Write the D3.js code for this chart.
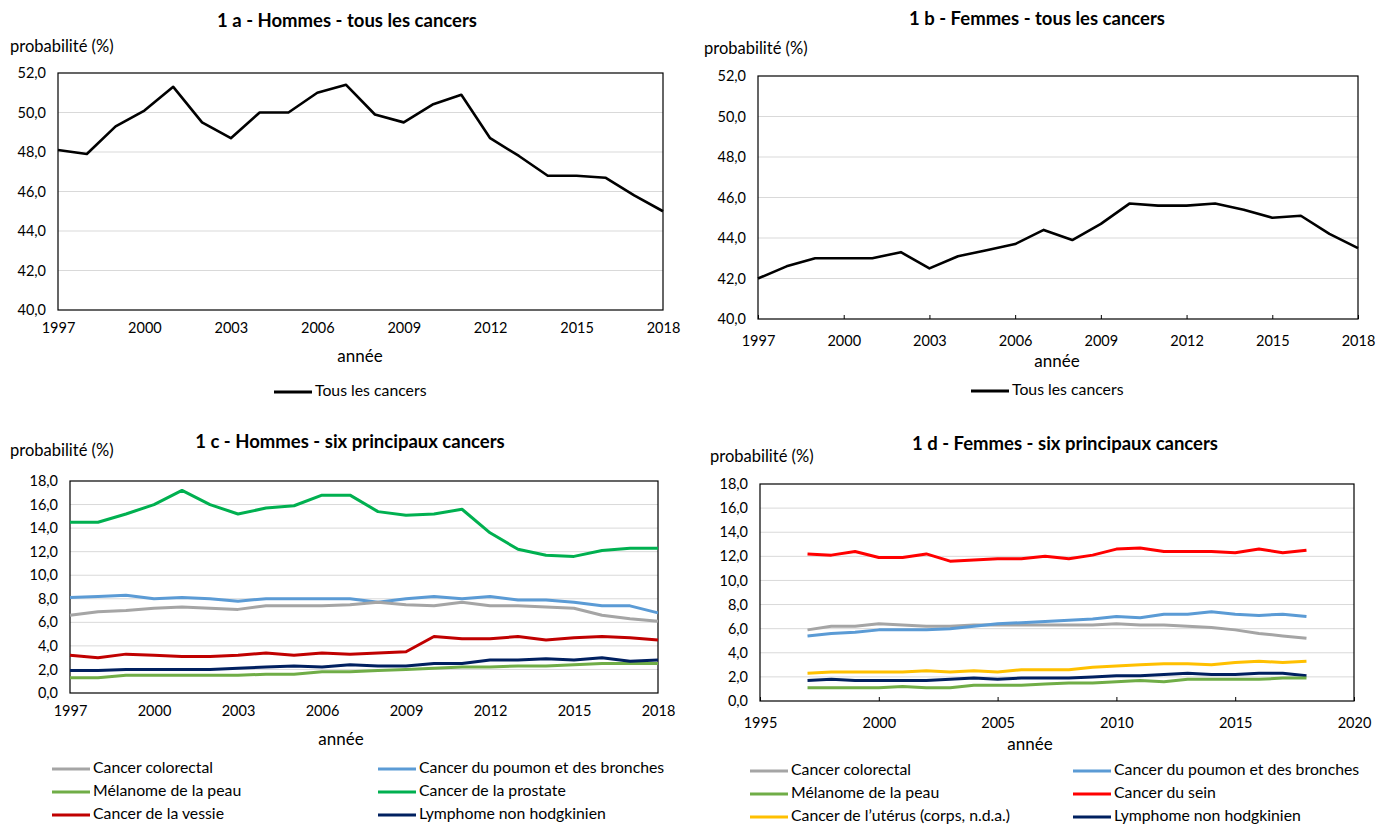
<!DOCTYPE html>
<html><head><meta charset="utf-8">
<script src="https://cdn.jsdelivr.net/npm/d3@7"></script>
<style>
body{margin:0;background:#fff;}
svg{display:block;font-family:Lato,"Open Sans",sans-serif;}
</style></head><body>
<svg id="c" width="1377" height="825"></svg>
<script>
const years = d3.range(1997, 2019);

// 1a Hommes tous les cancers
const hommesTous = [48.1,47.9,49.3,50.1,51.3,49.5,48.7,50.0,50.0,51.0,51.4,49.9,49.5,50.4,50.9,48.7,47.8,46.8,46.8,46.7,45.8,45.0];
// 1b Femmes tous les cancers
const femmesTous = [42.0,42.6,43.0,43.0,43.0,43.3,42.5,43.1,43.4,43.7,44.4,43.9,44.7,45.7,45.6,45.6,45.7,45.4,45.0,45.1,44.2,43.5];

// 1c Hommes six principaux cancers
const hColorectal = [6.6,6.9,7.0,7.2,7.3,7.2,7.1,7.4,7.4,7.4,7.5,7.7,7.5,7.4,7.7,7.4,7.4,7.3,7.2,6.6,6.3,6.1];
const hPoumon     = [8.1,8.2,8.3,8.0,8.1,8.0,7.8,8.0,8.0,8.0,8.0,7.7,8.0,8.2,8.0,8.2,7.9,7.9,7.7,7.4,7.4,6.8];
const hMelanome   = [1.3,1.3,1.5,1.5,1.5,1.5,1.5,1.6,1.6,1.8,1.8,1.9,2.0,2.1,2.2,2.2,2.3,2.3,2.4,2.5,2.5,2.5];
const hProstate   = [14.5,14.5,15.2,16.0,17.2,16.0,15.2,15.7,15.9,16.8,16.8,15.4,15.1,15.2,15.6,13.6,12.2,11.7,11.6,12.1,12.3,12.3];
const hVessie     = [3.2,3.0,3.3,3.2,3.1,3.1,3.2,3.4,3.2,3.4,3.3,3.4,3.5,4.8,4.6,4.6,4.8,4.5,4.7,4.8,4.7,4.5];
const hLymphome   = [1.9,1.9,2.0,2.0,2.0,2.0,2.1,2.2,2.3,2.2,2.4,2.3,2.3,2.5,2.5,2.8,2.8,2.9,2.8,3.0,2.7,2.8];

// 1d Femmes six principaux cancers
const fColorectal = [5.9,6.2,6.2,6.4,6.3,6.2,6.2,6.3,6.3,6.3,6.3,6.3,6.3,6.4,6.3,6.3,6.2,6.1,5.9,5.6,5.4,5.2];
const fPoumon     = [5.4,5.6,5.7,5.9,5.9,5.9,6.0,6.2,6.4,6.5,6.6,6.7,6.8,7.0,6.9,7.2,7.2,7.4,7.2,7.1,7.2,7.0];
const fMelanome   = [1.1,1.1,1.1,1.1,1.2,1.1,1.1,1.3,1.3,1.3,1.4,1.5,1.5,1.6,1.7,1.6,1.8,1.8,1.8,1.8,1.9,1.9];
const fSein       = [12.2,12.1,12.4,11.9,11.9,12.2,11.6,11.7,11.8,11.8,12.0,11.8,12.1,12.6,12.7,12.4,12.4,12.4,12.3,12.6,12.3,12.5];
const fUterus     = [2.3,2.4,2.4,2.4,2.4,2.5,2.4,2.5,2.4,2.6,2.6,2.6,2.8,2.9,3.0,3.1,3.1,3.0,3.2,3.3,3.2,3.3];
const fLymphome   = [1.7,1.8,1.7,1.7,1.7,1.7,1.8,1.9,1.8,1.9,1.9,1.9,2.0,2.1,2.1,2.2,2.3,2.2,2.2,2.3,2.3,2.1];

const yTicksTous = [40,42,44,46,48,50,52];
const yTicksSix = [0,2,4,6,8,10,12,14,16,18];
const xTicksA = [1997,2000,2003,2006,2009,2012,2015,2018];
const xTicksD = [1995,2000,2005,2010,2015,2020];

const C = {grey:"#A5A5A5", blue:"#5B9BD5", lgreen:"#70AD47", green:"#00B050", dred:"#C00000", navy:"#002060", red:"#FF0000", yellow:"#FFC000", black:"#000000"};

const svg = d3.select("#c");
const fmt = v => d3.format(".1f")(v).replace(".", ",");

function panel(o){
  const g = svg.append("g");
  const x = d3.scaleLinear().domain(o.xDomain).range([o.x0, o.x1]);
  const y = d3.scaleLinear().domain(o.yDomain).range([o.y1, o.y0]);
  // gridlines
  g.selectAll(".grid").data(o.yTicks.slice(1, -1)).join("line")
    .attr("x1", o.x0).attr("x2", o.x1).attr("y1", d=>y(d)).attr("y2", d=>y(d))
    .attr("stroke", "#D9D9D9").attr("stroke-width", 1);
  // y axis labels
  const ya = d3.axisLeft(y).tickValues(o.yTicks).tickFormat(fmt).tickSize(0).tickPadding(12);
  const yg = g.append("g").attr("transform", `translate(${o.x0},0)`).call(ya);
  yg.select(".domain").remove();
  yg.selectAll("text").attr("font-size", 14.5).attr("fill", "#000").attr("font-family", "Lato, sans-serif");
  // x axis
  const xa = d3.axisBottom(x).tickValues(o.xTicks).tickFormat(d3.format("d")).tickSize(o.innerTicks ? -4 : 0).tickPadding(o.innerTicks ? 17 : 13);
  const xg = g.append("g").attr("transform", `translate(0,${o.y1})`).call(xa);
  xg.select(".domain").remove();
  xg.selectAll("line").attr("stroke", "#000");
  xg.selectAll("text").attr("font-size", 14.5).attr("fill", "#000").attr("font-family", "Lato, sans-serif");
  // frame
  g.append("rect").attr("x", o.x0).attr("y", o.y0).attr("width", o.x1-o.x0).attr("height", o.y1-o.y0)
    .attr("fill", "none").attr("stroke", "#000").attr("stroke-width", 1.2);
  // lines
  const line = d3.line().x((d,i)=>x(years[i])).y(d=>y(d));
  o.series.forEach(s=>{
    g.append("path").datum(s.values).attr("d", line).attr("fill", "none")
      .attr("stroke", s.color).attr("stroke-width", s.w || 3).attr("stroke-linejoin", "round");
  });
  // texts
  g.append("text").attr("x", o.title[1]).attr("y", o.title[2]).attr("text-anchor", "middle")
    .attr("dominant-baseline", "middle").attr("font-weight", "bold").attr("font-size", 18.5).text(o.title[0]);
  g.append("text").attr("x", o.ylab[0]).attr("y", o.ylab[1]).attr("dominant-baseline", "middle")
    .attr("font-size", 16.5).text("probabilité (%)");
  g.append("text").attr("x", o.xlab[0]).attr("y", o.xlab[1]).attr("text-anchor", "middle")
    .attr("dominant-baseline", "middle").attr("font-size", 17).text("année");
  // legend
  o.legend.forEach(l=>{
    g.append("line").attr("x1", l.x).attr("x2", l.x+38).attr("y1", l.y).attr("y2", l.y)
      .attr("stroke", l.color).attr("stroke-width", 3);
    g.append("text").attr("x", l.x+41).attr("y", l.y).attr("dominant-baseline", "middle")
      .attr("font-size", 15.8).text(l.name);
  });
}

panel({
  x0:58, x1:663, y0:73, y1:310, xDomain:[1997,2018], yDomain:[40,52],
  yTicks:yTicksTous, xTicks:xTicksA, innerTicks:false,
  series:[{values:hommesTous, color:C.black, w:2.6}],
  title:["1 a - Hommes - tous les cancers", 347, 22], ylab:[10, 48], xlab:[360, 358],
  legend:[{x:274, y:392, color:C.black, name:"Tous les cancers"}]
});
panel({
  x0:758, x1:1358, y0:76, y1:319, xDomain:[1997,2018], yDomain:[40,52],
  yTicks:yTicksTous, xTicks:xTicksA, innerTicks:true,
  series:[{values:femmesTous, color:C.black, w:2.6}],
  title:["1 b - Femmes - tous les cancers", 1037, 20], ylab:[704, 50], xlab:[1057, 363],
  legend:[{x:971, y:391, color:C.black, name:"Tous les cancers"}]
});
panel({
  x0:70, x1:658, y0:481, y1:693, xDomain:[1997,2018], yDomain:[0,18],
  yTicks:yTicksSix, xTicks:xTicksA, innerTicks:false,
  series:[
    {values:hProstate, color:C.green},
    {values:hPoumon, color:C.blue},
    {values:hColorectal, color:C.grey},
    {values:hVessie, color:C.dred},
    {values:hMelanome, color:C.lgreen},
    {values:hLymphome, color:C.navy}
  ],
  title:["1 c - Hommes - six principaux cancers", 350, 443], ylab:[10, 452], xlab:[341, 741],
  legend:[
    {x:52, y:769, color:C.grey, name:"Cancer colorectal"},
    {x:378, y:769, color:C.blue, name:"Cancer du poumon et des bronches"},
    {x:52, y:792, color:C.lgreen, name:"Mélanome de la peau"},
    {x:378, y:792, color:C.green, name:"Cancer de la prostate"},
    {x:52, y:815, color:C.dred, name:"Cancer de la vessie"},
    {x:378, y:815, color:C.navy, name:"Lymphome non hodgkinien"}
  ]
});
panel({
  x0:760, x1:1354, y0:484, y1:701, xDomain:[1995,2020], yDomain:[0,18],
  yTicks:yTicksSix, xTicks:xTicksD, innerTicks:true,
  series:[
    {values:fSein, color:C.red},
    {values:fColorectal, color:C.grey},
    {values:fPoumon, color:C.blue},
    {values:fUterus, color:C.yellow},
    {values:fLymphome, color:C.navy},
    {values:fMelanome, color:C.lgreen}
  ],
  title:["1 d - Femmes -  six principaux cancers", 1065, 445], ylab:[710, 458], xlab:[1030, 746],
  legend:[
    {x:750, y:771, color:C.grey, name:"Cancer colorectal"},
    {x:1073, y:771, color:C.blue, name:"Cancer du poumon et des bronches"},
    {x:750, y:794, color:C.lgreen, name:"Mélanome de la peau"},
    {x:1073, y:794, color:C.red, name:"Cancer du sein"},
    {x:750, y:817, color:C.yellow, name:"Cancer de l’utérus (corps, n.d.a.)"},
    {x:1073, y:817, color:C.navy, name:"Lymphome non hodgkinien"}
  ]
});
</script>
</body></html>
